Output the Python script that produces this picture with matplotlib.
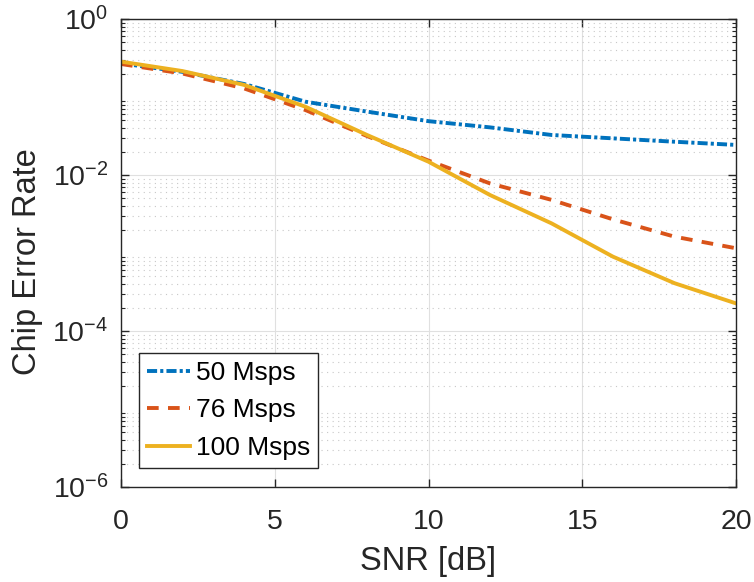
import matplotlib
matplotlib.use("Agg")
import matplotlib.pyplot as plt
import numpy as np
from matplotlib.ticker import LogLocator, NullFormatter, LogFormatterSciNotation

plt.rcParams['font.family'] = ['Liberation Sans', 'DejaVu Sans']
plt.rcParams['mathtext.fontset'] = 'custom'
plt.rcParams['mathtext.rm'] = 'Liberation Sans'

snr = [0, 2, 4, 6, 8, 10, 12, 14, 16, 18, 20]
cer_50 = [0.27, 0.21, 0.147, 0.087, 0.065, 0.049, 0.0408, 0.0326, 0.0295, 0.0267, 0.0243]
cer_76 = [0.265, 0.20, 0.129, 0.068, 0.0316, 0.0153, 0.0078, 0.0048, 0.0027, 0.00162, 0.00115]
cer_100 = [0.284, 0.215, 0.143, 0.075, 0.0326, 0.0148, 0.00554, 0.0024, 0.000897, 0.00041, 0.000226]
labels = ['50 Msps', '76 Msps', '100 Msps']

fig = plt.figure(figsize=(7.54, 5.82), dpi=100)
ax = fig.add_axes([121/754, 1-487/582, 615/754, 468/582])

c_blue, c_red, c_yel = '#0072BD', '#D95319', '#EDB120'
lw = 2.8
ax.semilogy(snr, cer_50, color=c_blue, lw=lw, linestyle=(0, (2.6, 0.8, 0.8, 0.8)),
            dash_capstyle='butt', label=labels[0])
ax.semilogy(snr, cer_76, color=c_red, lw=lw, linestyle=(0, (3.0, 2.4)),
            dash_capstyle='butt', label=labels[1])
ax.semilogy(snr, cer_100, color=c_yel, lw=lw, linestyle='-', label=labels[2])

ax.set_xlim(0, 20)
ax.set_ylim(1e-6, 1)
ax.set_xticks([0, 5, 10, 15, 20])
ax.set_yticks([1e-6, 1e-4, 1e-2, 1])
ax.yaxis.set_major_formatter(LogFormatterSciNotation())
ax.yaxis.set_minor_locator(LogLocator(base=10, subs=np.arange(2, 10), numticks=50))
ax.yaxis.set_minor_formatter(NullFormatter())

axc = '#262626'
for s in ax.spines.values():
    s.set_color(axc)
    s.set_linewidth(1.0)
ax.tick_params(which='both', direction='in', top=True, right=True, colors=axc,
               labelsize=20.5, labelcolor='#262626')
ax.tick_params(which='major', length=6, width=1.0)
ax.tick_params(which='minor', length=3, width=0.8)
ax.tick_params(axis='x', which='major', pad=15.5)
ax.tick_params(axis='y', which='major', pad=9)

ax.grid(True, which='major', color='#e0e0e0', lw=0.8, linestyle='-')
ax.grid(True, which='minor', axis='y', color='#c8c8c8', lw=0.8, linestyle=(0, (1, 4)))
ax.set_axisbelow(True)

ax.set_xlabel('SNR [dB]', fontsize=23.5, color='#262626', labelpad=8.5)
ax.set_ylabel('Chip Error Rate', fontsize=23.5, color='#262626')
ax.yaxis.set_label_coords(-0.1265, 0.481)

leg = ax.legend(loc='lower left', bbox_to_anchor=(0.029, 0.041), fontsize=19,
                frameon=True, fancybox=False, edgecolor='#262626', framealpha=1,
                handlelength=1.65, handletextpad=0.2, borderpad=0.3, labelspacing=0.51,
                borderaxespad=0)
leg.get_frame().set_linewidth(1.0)

fig.savefig('out.png', dpi=100)
